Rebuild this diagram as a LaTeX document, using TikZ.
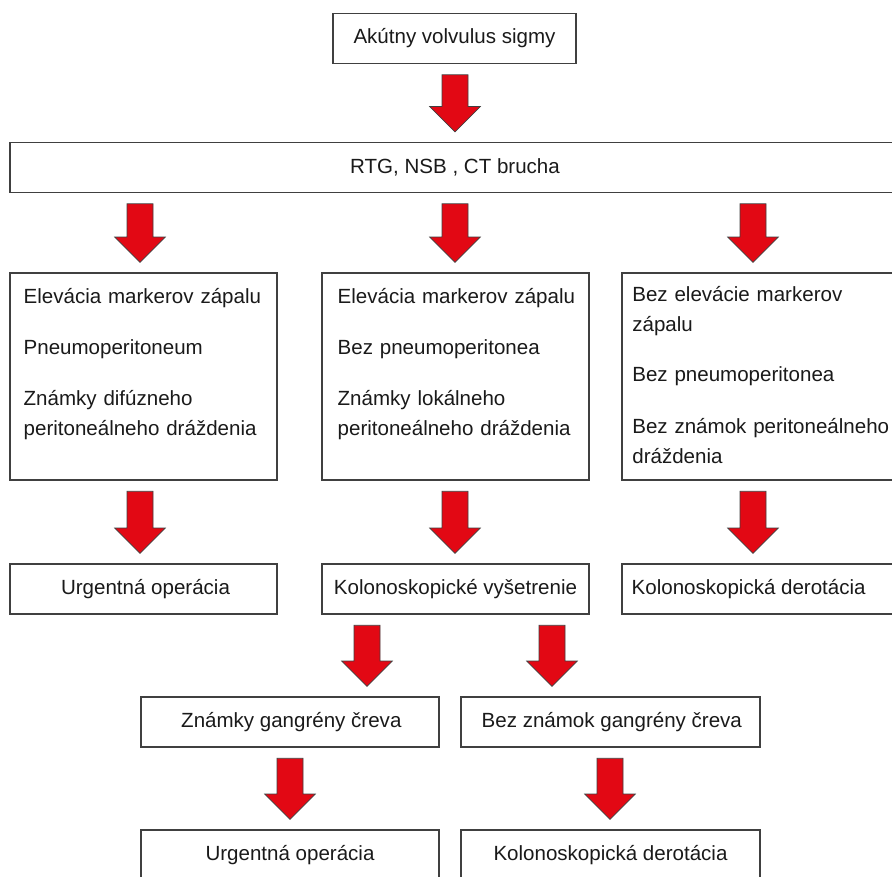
\documentclass[tikz,border=0pt]{standalone}
\usepackage{fontspec}
\setmainfont{Liberation Sans}
\usetikzlibrary{calc}
\definecolor{arrowred}{RGB}{226,8,20}
\definecolor{boxline}{RGB}{64,64,64}
\definecolor{txt}{RGB}{26,26,26}
\tikzset{
  box/.style={draw=boxline, line width=0.9pt, fill=white, inner sep=0pt,
    font=\fontsize{15.4pt}{22.5pt}\selectfont, text=txt, minimum height=37.5pt},
  coltext/.style={inner sep=0pt, anchor=north west, align=left, text width=215pt,
    font=\fontsize{15.4pt}{22.5pt}\selectfont, text=txt},
  blockarrow/.style={fill=arrowred, draw=black!75, line width=0.5pt, line join=miter}
}
% #1 = x position (px), #2 = source node, #3 = target node
\newcommand\flowarrow[3]{%
  \filldraw[blockarrow] let \p1=(#2.south -| #1,0), \p2=(#3.north -| #1,0) in
    (\x1-9.75pt,\y1-8pt) -- (\x1+9.75pt,\y1-8pt) -- (\x1+9.75pt,\y2+26.5pt)
    -- (\x1+19pt,\y2+26.5pt) -- (\x1,\y2+7.5pt) -- (\x1-19pt,\y2+26.5pt)
    -- (\x1-9.75pt,\y2+26.5pt) -- cycle;}
\begin{document}
\begin{tikzpicture}[x=0.75pt,y=-0.75pt]
\useasboundingbox (0,0) rectangle (892,877);
\clip (0,0) rectangle (892,877);
\fill[white] (0,0) rectangle (892,877);

% boxes
\node[box, minimum width=182.25pt] (top) at (454.5,38.5) {Akútny volvulus sigmy};
\node[box, minimum width=667.5pt] (rtg) at (455,167.5) {RTG, NSB , CT brucha};

\node[box, minimum width=200.25pt, minimum height=155.25pt] (c1) at (143.5,376.5) {};
\node[box, minimum width=200.25pt, minimum height=155.25pt] (c2) at (455.5,376.5) {};
\node[box, minimum width=208.5pt, minimum height=155.25pt] (c3) at (761,376.5) {};

\node[coltext] (t1) at ([xshift=10.5pt]c1.north west)
  {\rule{0pt}{23.25pt}Elevácia markerov zápalu\\[15.75pt]
   Pneumoperitoneum\\[15.75pt]
   Známky difúzneho\\ peritoneálneho dráždenia};
\node[coltext] (t2) at ([xshift=12pt]c2.north west)
  {\rule{0pt}{23.25pt}Elevácia markerov zápalu\\[15.75pt]
   Bez pneumoperitonea\\[15.75pt]
   Známky lokálneho\\ peritoneálneho dráždenia};
\node[coltext] (t3) at ([xshift=8pt]c3.north west)
  {\rule{0pt}{21.75pt}Bez elevácie markerov\\ zápalu\\[15pt]
   Bez pneumoperitonea\\[16pt]
   Bez známok peritoneálneho\\ dráždenia};

\node[box, minimum width=200.25pt] (u1) at (143.5,589) {\hspace*{3pt}Urgentná operácia};
\node[box, minimum width=200.25pt] (k1) at (455.5,589) {Kolonoskopické vyšetrenie};
\node[box, minimum width=208.5pt] (k3) at (761,589) {};
\node[inner sep=0pt, anchor=west, font=\fontsize{15.4pt}{22.5pt}\selectfont, text=txt]
  (k3t) at ([xshift=7.5pt]k3.west) {Kolonoskopická derotácia};

\node[box, minimum width=223.5pt] (g1) at (290,722) {\hspace*{2pt}Známky gangrény čreva};
\node[box, minimum width=224.25pt] (g2) at (610.5,722) {\hspace*{2pt}Bez známok gangrény čreva};

\node[box, minimum width=223.5pt, minimum height=38.25pt] (b1) at (290,855.5) {Urgentná operácia};
\node[box, minimum width=224.25pt, minimum height=38.25pt] (b2) at (610.5,855.5) {Kolonoskopická derotácia};

% arrows
\flowarrow{455}{top}{rtg}
\flowarrow{140}{rtg}{c1}
\flowarrow{455}{rtg}{c2}
\flowarrow{753}{rtg}{c3}
\flowarrow{140}{c1}{u1}
\flowarrow{455}{c2}{k1}
\flowarrow{753}{c3}{k3}
\flowarrow{367}{k1}{g1}
\flowarrow{552}{k1}{g2}
\flowarrow{290}{g1}{b1}
\flowarrow{610}{g2}{b2}
\end{tikzpicture}
\end{document}
